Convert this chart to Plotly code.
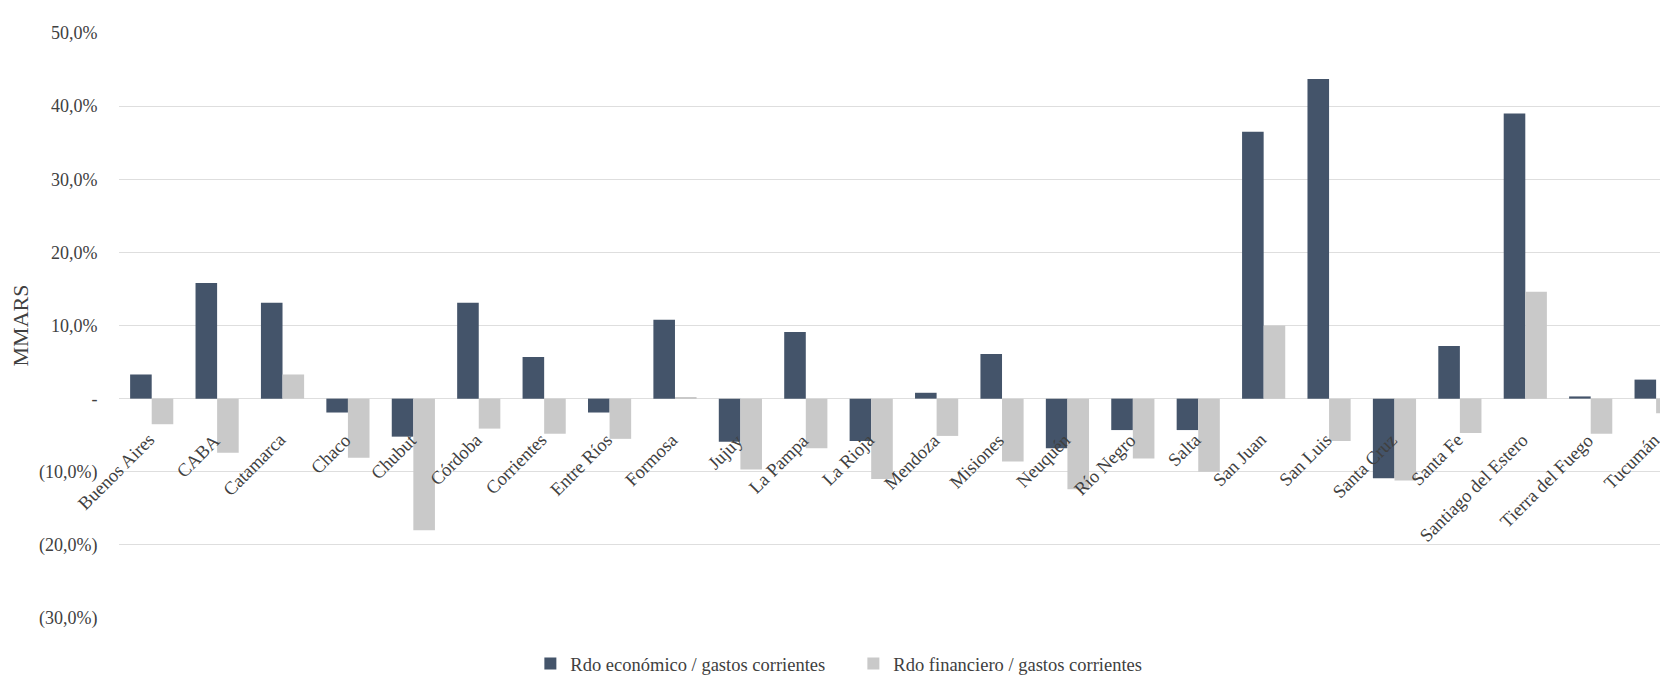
import plotly.graph_objects as go

provinces = ["Buenos Aires", "CABA", "Catamarca", "Chaco", "Chubut", "Córdoba",
             "Corrientes", "Entre Ríos", "Formosa", "Jujuy", "La Pampa", "La Rioja",
             "Mendoza", "Misiones", "Neuquén", "Río Negro", "Salta", "San Juan",
             "San Luis", "Santa Cruz", "Santa Fe", "Santiago del Estero",
             "Tierra del Fuego", "Tucumán"]

rdo_economico = [3.3, 15.8, 13.1, -1.9, -5.2, 13.1, 5.7, -1.9, 10.8, -5.9, 9.1, -5.8,
                 0.8, 6.1, -6.8, -4.3, -4.3, 36.5, 43.7, -10.9, 7.2, 39.0, 0.3, 2.6]
rdo_financiero = [-3.5, -7.4, 3.3, -8.1, -18.0, -4.1, -4.8, -5.5, 0.2, -9.7, -6.8, -11.0,
                  -5.1, -8.6, -12.4, -8.2, -10.0, 10.0, -5.8, -11.2, -4.7, 14.6, -4.8, -2.0]

series_names = ["Rdo económico / gastos corrientes", "Rdo financiero / gastos corrientes"]
y_tickvals = [-30, -20, -10, 0, 10, 20, 30, 40, 50]
y_ticktext = ["(30,0%)", "(20,0%)", "(10,0%)", "-", "10,0%", "20,0%", "30,0%", "40,0%", "50,0%"]
y_title = "MMARS"

FONT = "Liberation Serif, Times New Roman, serif"
DARK = "#44546A"
LIGHT = "#C9C9C9"
TXT = "#404040"

x_idx = list(range(len(provinces)))

fig = go.Figure()
fig.add_trace(go.Bar(x=x_idx, y=rdo_economico, name=series_names[0],
                     marker=dict(color=DARK, line=dict(width=0))))
fig.add_trace(go.Bar(x=x_idx, y=rdo_financiero, name=series_names[1],
                     marker=dict(color=LIGHT, line=dict(width=0))))

# category labels placed next to the zero line, rotated like the original
for i, name in zip(x_idx, provinces):
    fig.add_annotation(x=i, y=0, xref="x", yref="y", text=name, showarrow=False,
                       textangle=-45, xanchor="right", yanchor="top",
                       xshift=8, yshift=-30, borderpad=0,
                       font=dict(family=FONT, size=18.5, color=TXT))

W, H = 1668, 675
ML, MR, MT, MB = 110.5, 0, 25, 58
plot_w = W - ML - MR
plot_h = H - MT - MB
band = 65.43
x_max = -0.5 + plot_w / band

fig.update_layout(
    width=W, height=H,
    margin=dict(l=ML, r=MR, t=MT, b=MB, pad=0),
    paper_bgcolor="white", plot_bgcolor="white",
    barmode="group", bargap=0.34, bargroupgap=0.0,
    font=dict(family=FONT, size=18, color=TXT),
    showlegend=True,
    legend=dict(orientation="h", x=(522 - ML) / plot_w, xanchor="left",
                y=(617 - 664) / plot_h, yanchor="middle",
                font=dict(family=FONT, size=18.5, color=TXT),
                itemwidth=30, entrywidth=278, entrywidthmode="pixels",
                bgcolor="rgba(0,0,0,0)"),
    xaxis=dict(
        range=[-0.5, x_max], showticklabels=False,
        showgrid=False, zeroline=False, showline=False, ticks="",
    ),
    yaxis=dict(
        range=[-30, 50], domain=[0, 1],
        tickmode="array", tickvals=y_tickvals, ticktext=y_ticktext,
        showgrid=True, gridcolor="#DEDEDE", gridwidth=1,
        zeroline=True, zerolinecolor="#DEDEDE", zerolinewidth=1,
        showline=False, ticks="outside", ticklen=17, tickcolor="rgba(0,0,0,0)",
        tickfont=dict(family=FONT, size=18, color=TXT),
        title=dict(text=y_title, standoff=8,
                   font=dict(family=FONT, size=22, color=TXT)),
    ),
)

fig.write_html("out.html")
